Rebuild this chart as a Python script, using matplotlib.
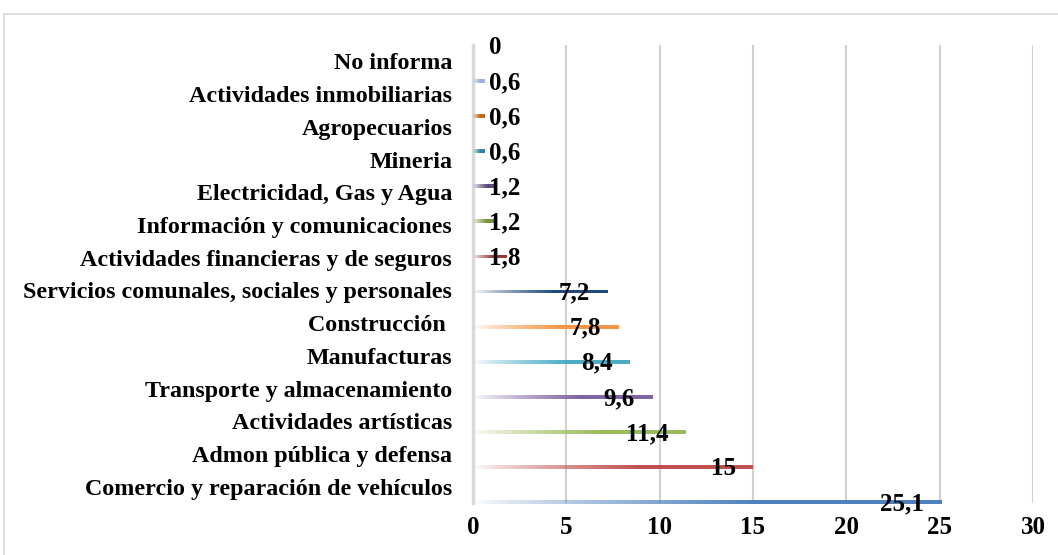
import numpy as np
import matplotlib
matplotlib.use("Agg")
import matplotlib.pyplot as plt
from matplotlib.colors import to_rgb
from matplotlib.patches import Rectangle

# data (top to bottom as in the chart)
categorias = [
    "No informa",
    "Actividades inmobiliarias",
    "Agropecuarios",
    "Mineria",
    "Electricidad, Gas y Agua",
    "Información y comunicaciones",
    "Actividades financieras y de seguros",
    "Servicios comunales, sociales y personales",
    "Construcción ",
    "Manufacturas",
    "Transporte y almacenamiento",
    "Actividades artísticas",
    "Admon pública y defensa",
    "Comercio y reparación de vehículos",
]
valores = [0, 0.6, 0.6, 0.6, 1.2, 1.2, 1.8, 7.2, 7.8, 8.4, 9.6, 11.4, 15, 25.1]
colores = [
    "#F2DCDB", "#95B3D7", "#C0661A", "#31859C", "#5F497A", "#77933C", "#953735",
    "#1F497D", "#F79646", "#4BACC6", "#8064A2", "#9BBB59", "#C0504D", "#4F81BD",
]
ticks_x = [0, 5, 10, 15, 20, 25, 30]

plt.rcParams["font.family"] = ["Liberation Serif", "DejaVu Serif"]
plt.rcParams["font.weight"] = "bold"

fig = plt.figure(figsize=(10.58, 5.55), dpi=100)
W, H = 1058, 555
# outer chart frame
fig.patches.append(Rectangle((4 / W, -0.1), 1.2, (H - 14) / H + 0.1,
                             transform=fig.transFigure, fill=False,
                             edgecolor="#d9d9d9", linewidth=1.3))

ax = fig.add_axes([473 / W, (H - 503) / H, (1033 - 473) / W, (503 - 45) / H])

n = len(categorias)
pos = np.arange(n)
# each category holds its own series inside the band (excel-like offset)
bar_y = pos - 0.5 + (pos + 0.5) / n
alto = 0.12

t = np.linspace(0, 1, 256)
alpha = np.clip(t / 0.6, 0, 1) ** 0.8
for y, v, c in zip(bar_y, valores, colores):
    if v <= 0:
        continue
    bar = ax.barh(y, v, height=alto, color="none", edgecolor="none")[0]
    rgba = np.zeros((1, 256, 4))
    rgba[..., :3] = to_rgb(c)
    rgba[..., 3] = alpha
    im = ax.imshow(rgba, extent=(0, v, y + alto / 2, y - alto / 2),
                   aspect="auto", interpolation="bilinear", zorder=3)
    im.set_clip_path(bar)

# value labels
px_per_unit = (1033 - 473) / 30
for y, v in zip(bar_y, valores):
    txt = f"{v:g}".replace(".", ",")
    if v * px_per_unit - 17 < 58:
        ax.annotate(txt, (0, y), xytext=(11.5, -1.2), textcoords="offset points",
                    ha="left", va="center", fontsize=18, fontweight="bold",
                    zorder=4)
    else:
        ax.annotate(txt, (v, y), xytext=(-12.5, -1.2), textcoords="offset points",
                    ha="right", va="center", fontsize=18, fontweight="bold",
                    zorder=4)

ax.set_xlim(0, 30)
ax.set_ylim(n - 0.5, -0.5)
ax.set_xticks(ticks_x)
ax.set_xticklabels([str(x) for x in ticks_x], fontsize=18, fontweight="bold")
ax.set_yticks(pos)
ax.set_yticklabels(categorias, fontsize=17.3, fontweight="bold")
ax.tick_params(axis="y", length=0, pad=15)
ax.tick_params(axis="x", length=0, pad=9)
ax.grid(axis="x", color="#d0d0d0", linewidth=1.5, zorder=0)
ax.set_axisbelow(True)
for s in ["top", "right", "bottom"]:
    ax.spines[s].set_visible(False)
ax.spines["left"].set_color("#d9d9d9")
ax.spines["left"].set_linewidth(2.5)

fig.savefig("out.png", dpi=100, facecolor="white")
